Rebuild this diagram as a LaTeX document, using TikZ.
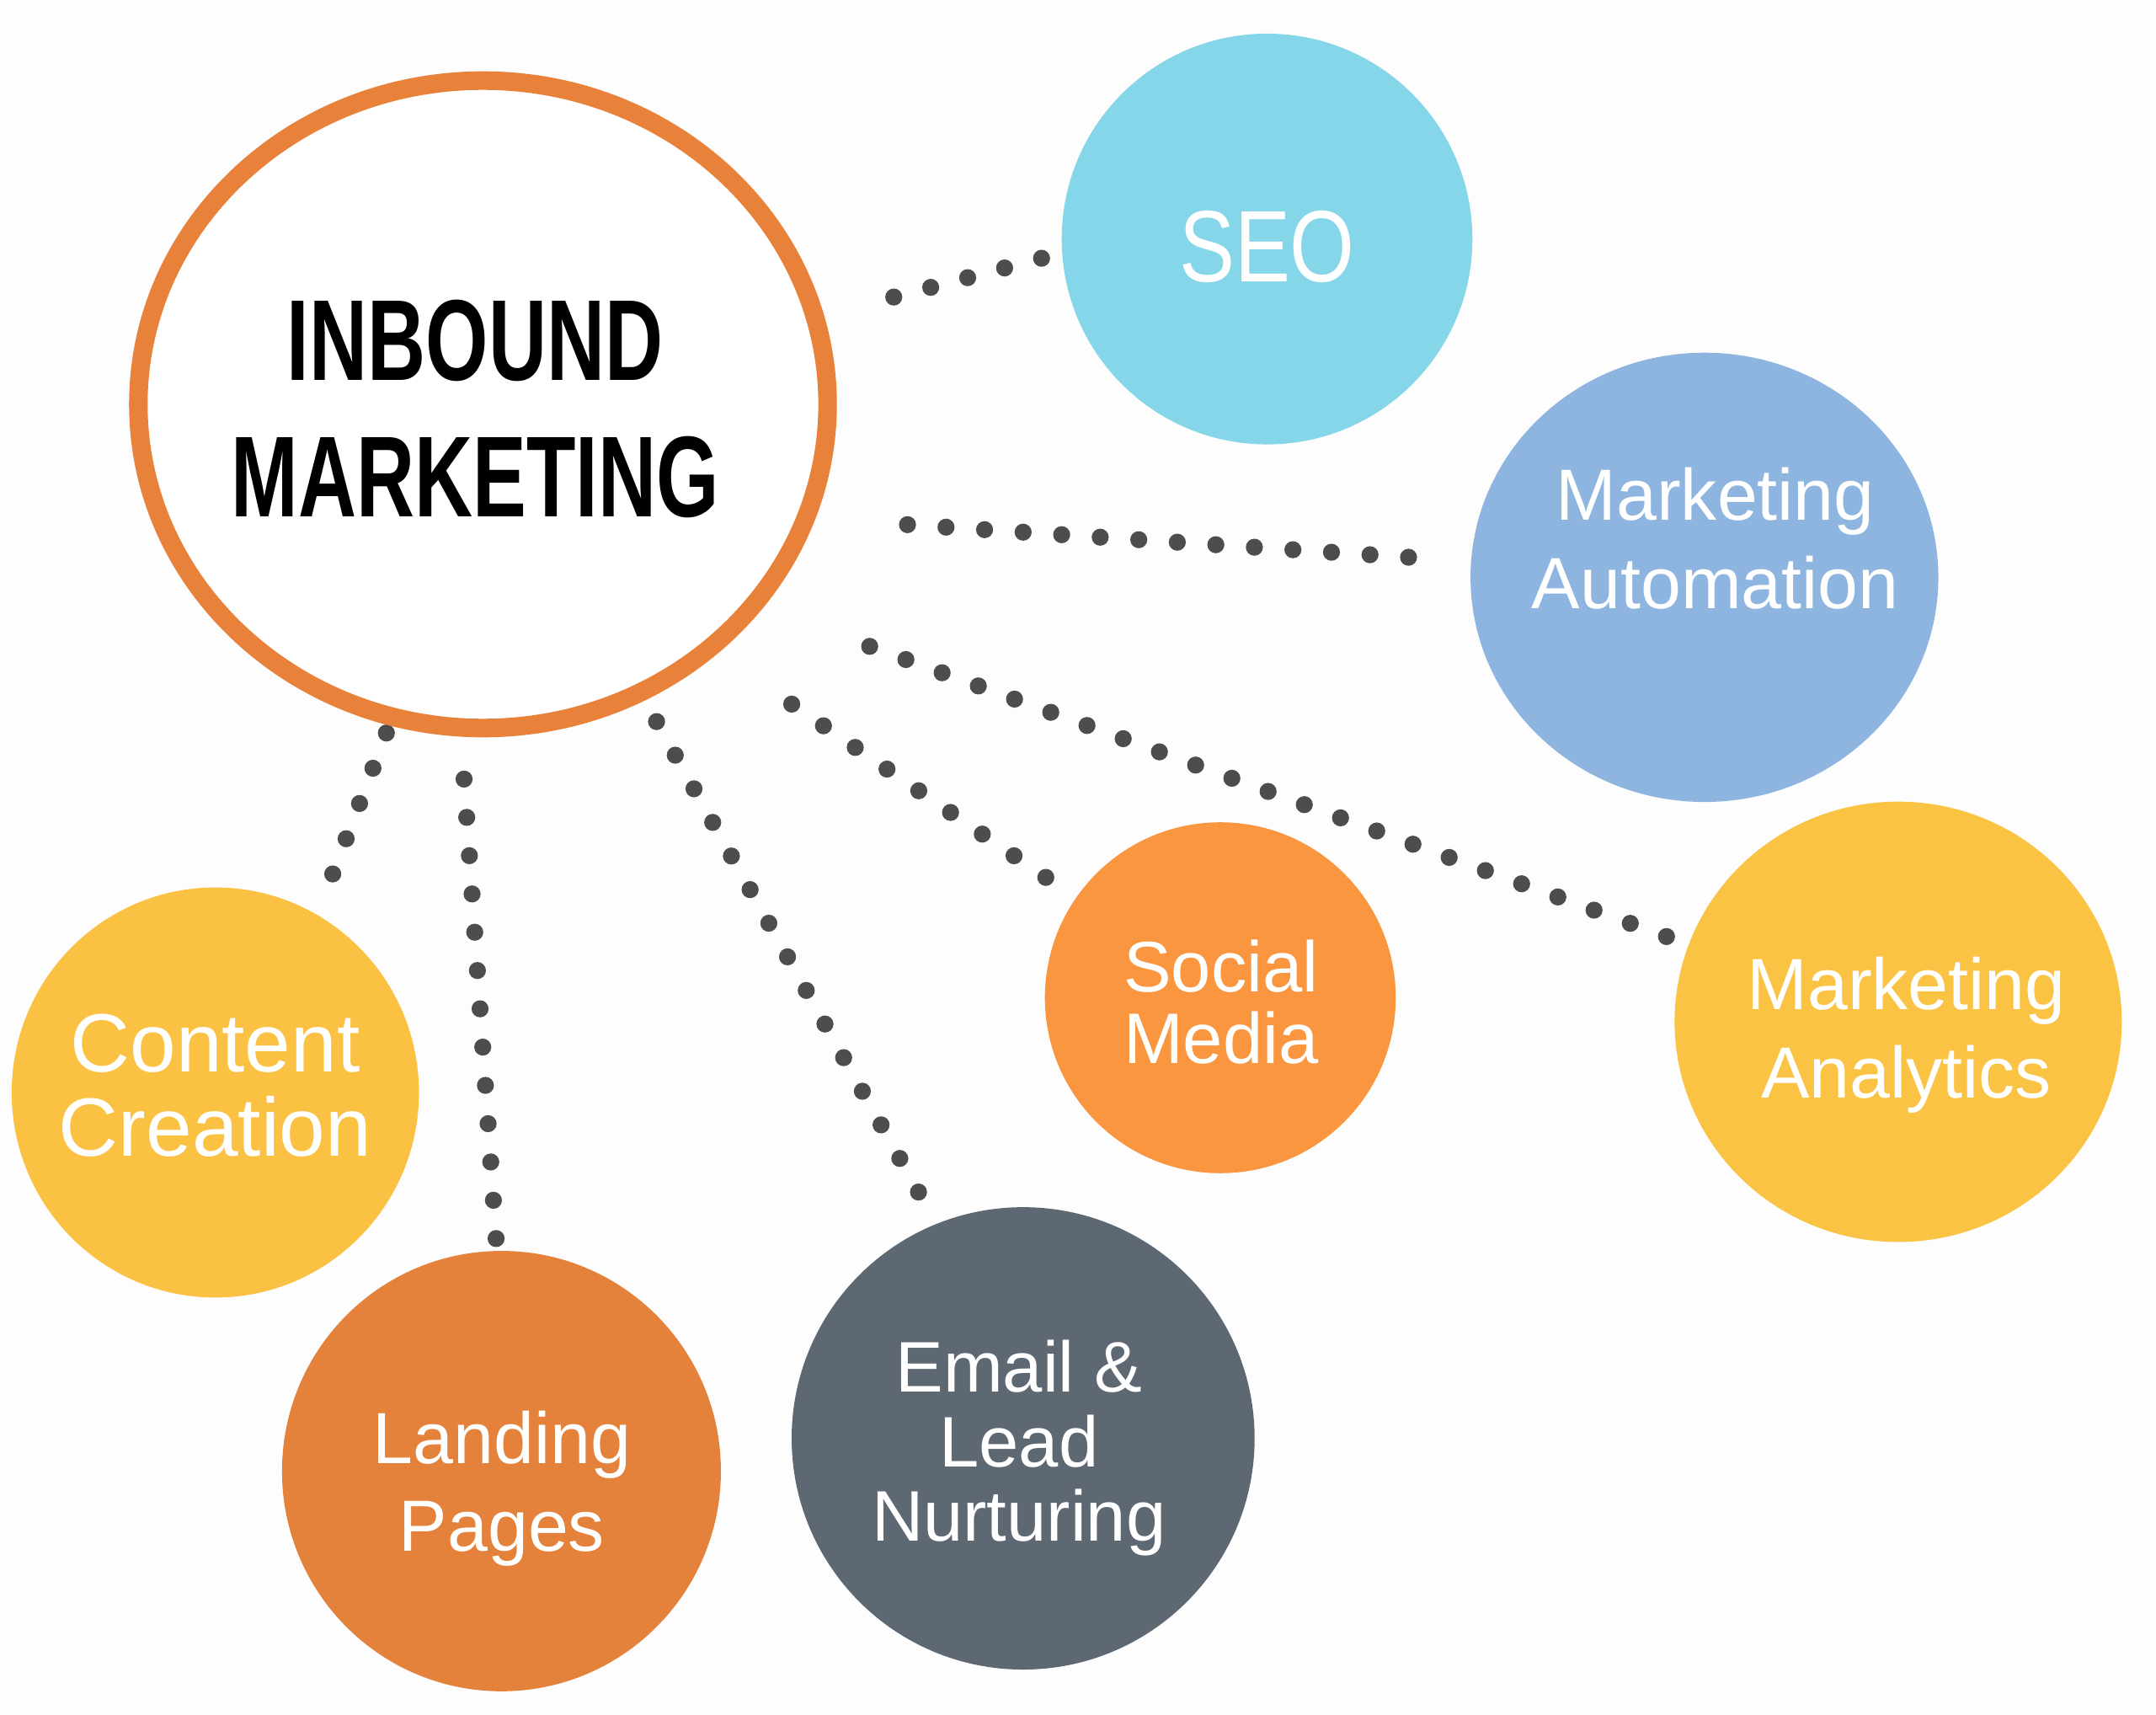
\documentclass[tikz,border=0pt]{standalone}
\usepackage{fontspec}
\setmainfont{Liberation Sans}
\newfontfamily\headfont[FakeStretch=0.70]{Liberation Sans}
\newfontfamily\seofont[FakeStretch=0.82]{Liberation Sans}
\usetikzlibrary{calc,shapes.geometric}
\definecolor{ringc}{HTML}{E8823A}
\definecolor{seoc}{HTML}{86D6EA}
\definecolor{autoc}{HTML}{8EB5DF}
\definecolor{analc}{HTML}{FBC344}
\definecolor{socc}{HTML}{FB9640}
\definecolor{contc}{HTML}{FBC142}
\definecolor{landc}{HTML}{E4823C}
\definecolor{mailc}{HTML}{5D6873}
\definecolor{dotc}{HTML}{4D4D4D}
\definecolor{bgc}{HTML}{FDFDFD}
\tikzset{
  bubble/.style={ellipse, inner sep=0pt, draw=none},
  lbl/.style={anchor=north, inner sep=0pt, text=white, align=center},
  dotfill/.style={fill=dotc}
}
\newcommand\dotrow[3]{\foreach \dd in {0,...,#3}{\fill[dotfill] ($(#1)!\dd/#3!(#2)$) circle[radius=0.062cm];}}
\begin{document}
\begin{tikzpicture}[x=0.01cm,y=-0.01cm]
\useasboundingbox (0,0) rectangle (1568,1247.05);
\fill[bgc] (0,0) rectangle (1568,1247.05);

% dotted connectors (end points)
\coordinate (a1) at (650,216);     \coordinate (a2) at (757.5,187.8);
\coordinate (b1) at (660,381.5);   \coordinate (b2) at (1024.4,405.2);
\coordinate (c1) at (632.5,470);   \coordinate (c2) at (1212,681);
\coordinate (d1) at (575.8,512);   \coordinate (d2) at (760.6,638);
\coordinate (e1) at (477.5,524.7); \coordinate (e2) at (668,866.8);
\coordinate (f1) at (337.5,566.5); \coordinate (f2) at (360.8,900.6);
\coordinate (g1) at (281,533);     \coordinate (g2) at (242,635.5);
\dotrow{a1}{a2}{4}
\dotrow{b1}{b2}{13}
\dotrow{c1}{c2}{22}
\dotrow{d1}{d2}{8}
\dotrow{e1}{e2}{14}
\dotrow{f1}{f2}{12}
\dotrow{g1}{g2}{4}

% bubbles
\node[bubble, fill=seoc,  minimum width=2.985cm, minimum height=2.985cm] (seo)  at (921.5,173.8) {};
\node[bubble, fill=autoc, minimum width=3.40cm,  minimum height=3.265cm] (auto) at (1239.6,419.8) {};
\node[bubble, fill=analc, minimum width=3.25cm,  minimum height=3.20cm]  (anal) at (1380.5,743) {};
\node[bubble, fill=socc,  minimum width=2.55cm,  minimum height=2.55cm]  (soc)  at (887.5,725.5) {};
\node[bubble, fill=contc, minimum width=2.96cm,  minimum height=2.98cm]  (cont) at (156.6,794.4) {};
\node[bubble, fill=landc, minimum width=3.19cm,  minimum height=3.20cm]  (land) at (364.7,1069.7) {};
\node[bubble, fill=mailc, minimum width=3.365cm, minimum height=3.36cm]  (mail) at (744.1,1045.9) {};
\node[ellipse, draw=ringc, line width=3.84pt, fill=white, inner sep=0pt,
      minimum width=5.01cm, minimum height=4.705cm] (inb) at (351.25,294) {};

% labels
\node[lbl, text=black, font=\headfont\bfseries\fontsize{23.8}{28.2}\selectfont] (inb-t) at (345.5,217.5) {INBOUND\\MARKETING};
\node[lbl, font=\seofont\fontsize{21}{25}\selectfont] (seo-t) at (921.5,152.5) {SEO};
\node[lbl, font=\fontsize{15}{18.2}\selectfont] (auto-t) at (1247.5,339.4) {Marketing\\Automation};
\node[lbl, font=\fontsize{15}{18.2}\selectfont] (anal-t) at (1386.5,695.2) {Marketing\\Analytics};
\node[lbl, font=\fontsize{14.8}{14.8}\selectfont] (soc-t) at (888,683) {Social\\Media};
\node[lbl, font=\fontsize{17.1}{17.35}\selectfont] (cont-t) at (156.5,737) {Content\\Creation};
\node[lbl, font=\fontsize{15}{18.2}\selectfont] (land-t) at (365,1025) {Landing\\Pages};
\node[lbl, font=\fontsize{14.8}{15.36}\selectfont] (mail-t) at (741,974) {Email \&\\Lead\\Nurturing};
\end{tikzpicture}
\end{document}
